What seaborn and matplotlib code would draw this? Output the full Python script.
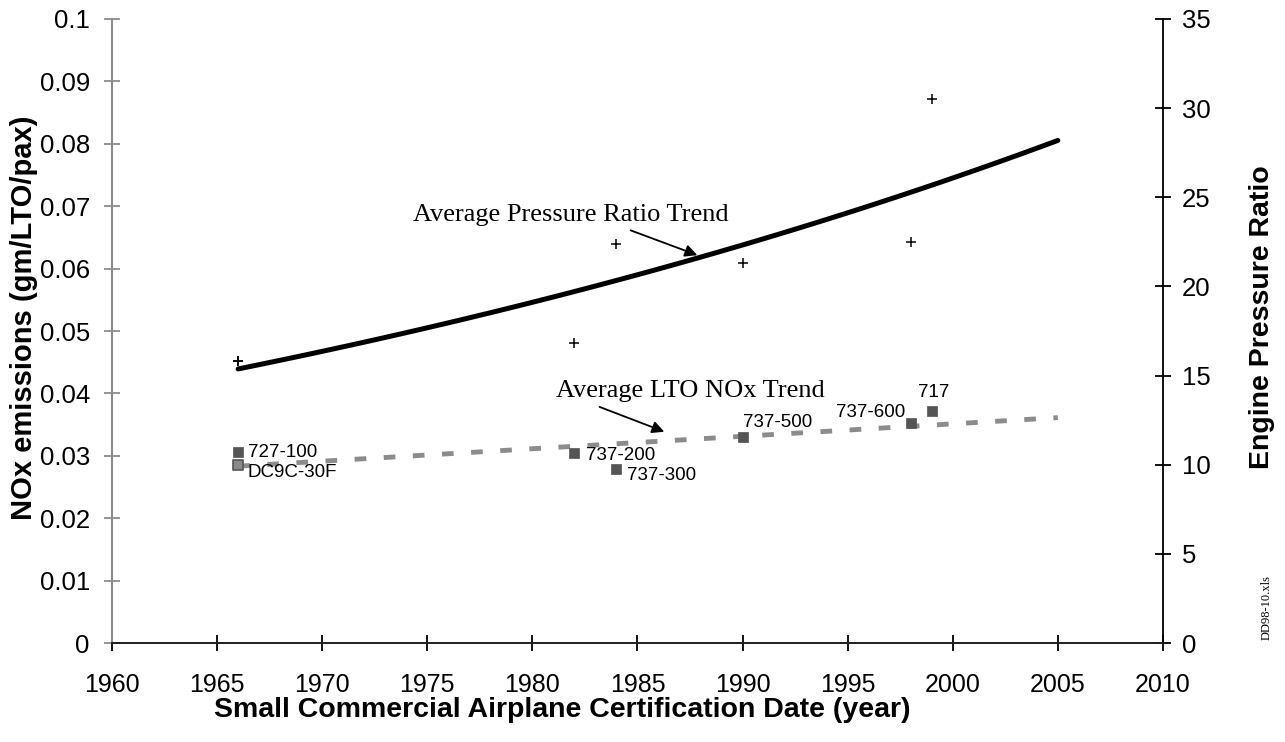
import numpy as np
import pandas as pd
import matplotlib
matplotlib.use('Agg')
import matplotlib.pyplot as plt
import seaborn as sns

# NOx emissions per airplane (left axis)
nox_models = ['727-100', 'DC9C-30F', '737-200', '737-300', '737-500', '737-600', '717']
nox_years = [1966, 1966, 1982, 1984, 1990, 1998, 1999]
nox_values = [0.0306, 0.0285, 0.0304, 0.0279, 0.0330, 0.0353, 0.0372]

# engine pressure ratio (right axis), the two 1966 airplanes overlap
epr_years = [1966, 1966, 1982, 1984, 1990, 1998, 1999]
epr_values = [15.8, 15.8, 16.8, 22.4, 21.3, 22.5, 30.5]

trend_years = [1966, 2005]

sns.set_theme(style='white')
plt.rcParams['font.family'] = ['Liberation Sans', 'DejaVu Sans']
plt.rcParams['text.color'] = 'black'
plt.rcParams['axes.labelcolor'] = 'black'

nox = pd.DataFrame({'model': nox_models, 'year': nox_years, 'nox': nox_values})
epr = pd.DataFrame({'year': epr_years, 'epr': epr_values})

# trend lines as Excel fits them: linear for NOx, exponential for pressure ratio
yrs = np.linspace(trend_years[0], trend_years[1], 80)
b1, b0 = np.polyfit(nox['year'], nox['nox'], 1)
k1, k0 = np.polyfit(epr['year'], np.log(epr['epr']), 1)
nox_trend = pd.DataFrame({'year': yrs, 'nox': b0 + b1 * yrs})
epr_trend = pd.DataFrame({'year': yrs, 'epr': np.exp(k0 + k1 * yrs)})

fig = plt.figure(figsize=(12.85, 7.42), dpi=100)
ax = fig.add_axes([0.0872, 0.1334, 0.8178, 0.841])
ax2 = ax.twinx()

grey = '#8c8c8c'
sns.lineplot(data=nox_trend, x='year', y='nox', ax=ax, color=grey, lw=3.5, zorder=2)
ax.lines[-1].set_dashes((2.4, 3.6))
sns.scatterplot(data=nox.iloc[[0, 2, 3, 4, 5, 6]], x='year', y='nox', ax=ax, marker='s',
                s=55, color='#555555', edgecolor='#555555', linewidth=0.5, zorder=3)
sns.scatterplot(data=nox.iloc[[1]], x='year', y='nox', ax=ax, marker='s',
                s=50, color='#8a8a8a', edgecolor='#555555', linewidth=1.2, zorder=3)

sns.lineplot(data=epr_trend, x='year', y='epr', ax=ax2, color='black', lw=3.6, zorder=2)
sns.scatterplot(data=epr, x='year', y='epr', ax=ax2, marker='+', s=60,
                color='black', linewidth=1.1, zorder=3)

# point labels
offs = {'727-100': (0.45, 0.0), 'DC9C-30F': (0.45, -0.0011), '737-200': (0.55, -0.0003),
        '737-300': (0.5, -0.0010), '737-500': (0.0, 0.0024), '737-600': (-3.55, 0.0016),
        '717': (-0.65, 0.0029)}
for m, yv, v in zip(nox_models, nox_years, nox_values):
    dx, dy = offs[m]
    ax.text(yv + dx, v + dy, m, fontsize=13.5, ha='left', va='center')

serif = ['Liberation Serif', 'DejaVu Serif']
ax2.text(1974.3, 24.0, 'Average Pressure Ratio Trend', family=serif, fontsize=19,
         ha='left', va='center')
ax2.annotate('', xy=(1987.97, 21.7), xytext=(1984.55, 23.2),
             arrowprops=dict(arrowstyle='-|>', color='black', lw=1.3, mutation_scale=18))
ax.text(1981.1, 0.0404, 'Average LTO NOx Trend', family=serif, fontsize=19,
        ha='left', va='center')
ax.annotate('', xy=(1986.4, 0.0337), xytext=(1983.07, 0.0380),
            arrowprops=dict(arrowstyle='-|>', color='black', lw=1.3, mutation_scale=18))

ax.set_xlim(1960, 2010)
ax.set_ylim(0, 0.1)
ax2.set_ylim(0, 35)
ax.set_xticks(range(1960, 2011, 5))
ax.set_yticks(np.arange(0, 0.1001, 0.01))
ax.set_yticklabels(['0'] + ['%g' % round(v, 2) for v in np.arange(0.01, 0.1001, 0.01)])
ax2.set_yticks(range(0, 36, 5))

for a in (ax, ax2):
    a.spines['top'].set_visible(False)
ax.spines['right'].set_visible(False)
ax.spines['left'].set_color(grey)
ax.spines['left'].set_linewidth(1.5)
ax2.spines['left'].set_visible(False)
ax2.spines['right'].set_color('black')
ax2.spines['right'].set_linewidth(1.3)
ax.spines['bottom'].set_color('black')
ax.spines['bottom'].set_linewidth(1.3)

ax.tick_params(axis='y', direction='inout', length=12, width=1.3, color=grey,
               labelcolor='black', labelsize=18.5, pad=10, left=True)
ax.tick_params(axis='x', direction='inout', length=12, width=1.3, color='black',
               labelcolor='black', labelsize=18, pad=15.5, bottom=True)
ax2.tick_params(axis='y', direction='inout', length=12, width=1.3, color='black',
                labelcolor='black', labelsize=18.5, pad=7.5, right=True)

ax.set_xlabel('Small Commercial Airplane Certification Date (year)', fontsize=20.5,
              fontweight='bold', va='center')
ax.xaxis.set_label_coords(0.428, -0.108)
ax.set_ylabel('NOx emissions (gm/LTO/pax)', fontsize=21, fontweight='bold',
              va='center', ha='center')
ax.yaxis.set_label_coords(-0.0835, 0.521)
ax2.set_ylabel('Engine Pressure Ratio', fontsize=20.5, fontweight='bold',
               va='center', ha='center')
ax2.yaxis.set_label_coords(1.094, 0.522)

fig.text(0.986, 1 - 607 / 742, 'DD98-10.xls', family=serif, fontsize=9,
         rotation=90, ha='center', va='center')

fig.savefig('out.png', dpi=100)
